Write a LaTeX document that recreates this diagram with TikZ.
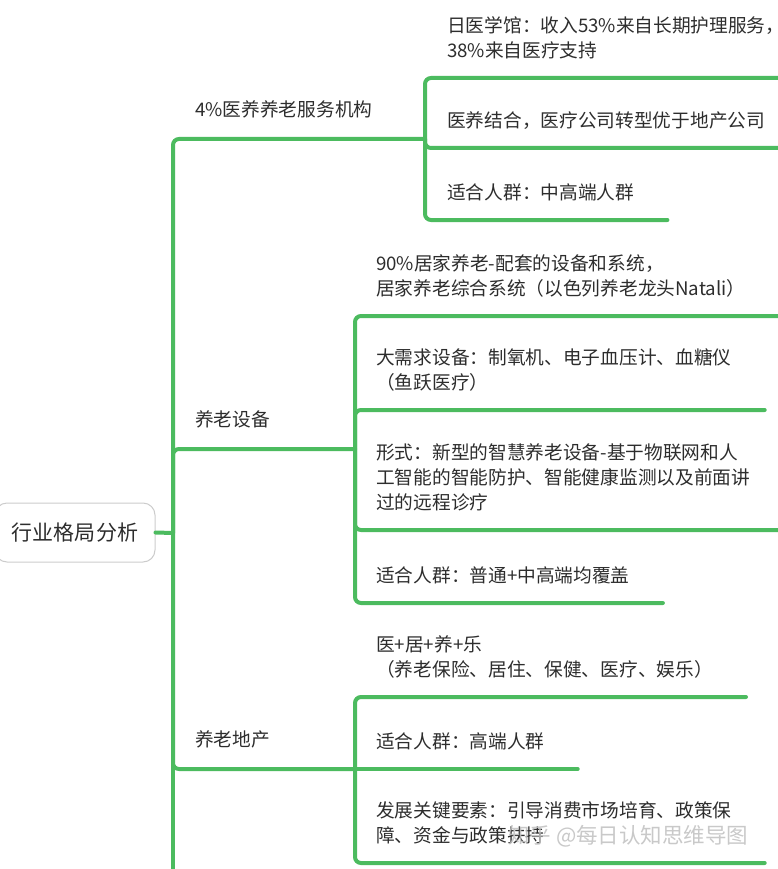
\documentclass[tikz,border=0pt]{standalone}
\usepackage{fontspec}
\setmainfont{Noto Sans CJK SC}
\usetikzlibrary{positioning, calc}
\definecolor{mapgreen}{RGB}{76,187,95}
\definecolor{maptext}{RGB}{45,45,45}
\newcommand{\leaffont}{\fontsize{18.7}{25}\selectfont}
\newcommand{\rootfont}{\fontsize{21}{26}\selectfont}
\newcommand{\markfont}{\fontsize{21.5}{26}\selectfont}
\tikzset{branchline/.style={draw=mapgreen, line width=4pt, line cap=round, rounded corners=6pt}}
\tikzset{leafnode/.style={anchor=south west, align=left, inner xsep=0pt, inner ysep=13pt, font=\leaffont, text=maptext, execute at end node=\strut}}
\tikzset{topicnode/.style={leafnode, inner ysep=14.5pt}}
\tikzset{rootnode/.style={draw=gray!40, line width=1pt, rounded corners=12pt, minimum width=160pt, minimum height=59pt, inner sep=0pt, font=\rootfont, text=maptext, fill=white}}

\begin{document}
\begin{tikzpicture}[x=1pt, y=-1pt]
		\useasboundingbox (0,0) rectangle (777,869);
		% Draw root and trunk
		\node[rootnode] (root) at (75,532.5) {行业格局分析};
		\coordinate (trunk) at (173,533);
		\coordinate (tail) at (173,900);
		\coordinate (j1) at (425,139);
		\coordinate (j2) at (355,449);
		\coordinate (j3) at (355,769);
		\node[topicnode] (b1) at (195,139) {4\%医养养老服务机构};
		\node[topicnode] (b2) at (195,449) {养老设备};
		\node[topicnode] (b3) at (195,769) {养老地产};
		% Draw the leaves
		\node[leafnode] (l11) at (447,78) {日医学馆：收入53\%来自长期护理服务，\\38\%来自医疗支持};
		\node[leafnode] (l12) at (447,148) {医养结合，医疗公司转型优于地产公司};
		\node[leafnode] (l13) at (447,220) {适合人群：中高端人群};
		\node[leafnode] (l21) at (376,316) {90\%居家养老-配套的设备和系统，\\居家养老综合系统（以色列养老龙头Natali）};
		\node[leafnode] (l22) at (376,410) {大需求设备：制氧机、电子血压计、血糖仪\\（鱼跃医疗）};
		\node[leafnode] (l23) at (376,530) {形式：新型的智慧养老设备-基于物联网和人\\工智能的智能防护、智能健康监测以及前面讲\\过的远程诊疗};
		\node[leafnode] (l24) at (376,603) {适合人群：普通+中高端均覆盖};
		\node[leafnode] (l31) at (376,697) {医+居+养+乐\\（养老保险、居住、保健、医疗、娱乐）};
		\node[leafnode] (l32) at (376,769) {适合人群：高端人群};
		\node[leafnode] (l33) at (376,863) {发展关键要素：引导消费市场培育、政策保\\障、资金与政策扶持};
		% Draw the lines
		\draw[branchline] (root.east) -- (trunk);
		\draw[branchline] (trunk) -- (tail);
		\draw[branchline] (trunk) |- (j1);
		\draw[branchline] (trunk) |- (j2);
		\draw[branchline] (trunk) |- (j3);
		\foreach \l in {l11,l12,l13}
			\draw[branchline] (j1) |- ([xshift=33pt]\l.south east);
		\foreach \l in {l21,l22,l23,l24}
			\draw[branchline] (j2) |- ([xshift=33pt]\l.south east);
		\foreach \l in {l31,l33}
			\draw[branchline] (j3) |- ([xshift=33pt]\l.south east);
		\draw[branchline] (j3) -- ([xshift=33pt]l32.south east);
		\node[anchor=west, inner sep=0pt, font=\markfont, text=gray!50, opacity=0.85] (mark) at (508,836) {知乎 @每日认知思维导图};
	\end{tikzpicture}
\end{document}
